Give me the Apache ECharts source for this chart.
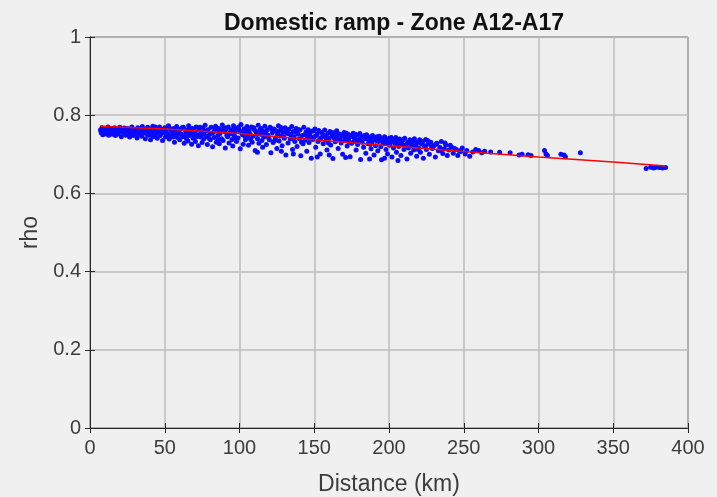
<!DOCTYPE html>
<html>
<head>
<meta charset="utf-8">
<script src="https://cdn.jsdelivr.net/npm/echarts@6/dist/echarts.min.js"></script>
<style>
html,body{margin:0;padding:0;background:#f0f0f0;}
#chart{width:717px;height:497px;}
</style>
</head>
<body>
<div id="chart"></div>
<script>
const titleText = "Domestic ramp - Zone A12-A17";
const xName = "Distance (km)";
const yName = "rho";
const xTicks = [0, 50, 100, 150, 200, 250, 300, 350, 400];
const yTicks = [0, 0.2, 0.4, 0.6, 0.8, 1];

// Observed points [distance km, rho]
const points = [
[7,0.762],[7.5,0.755],[8,0.768],[8.5,0.750],[9,0.760],[10,0.765],[10.5,0.752],[11,0.758],[12,0.770],[12.5,0.749],[13,0.762],[14,0.755],[14.5,0.766],[15,0.751],
[16,0.760],[16.5,0.768],[17,0.748],[18,0.757],[18.5,0.764],[19,0.752],[20,0.769],[20.5,0.758],[21,0.745],[22,0.762],[22.5,0.754],[23,0.767],[24,0.749],[24.5,0.760],
[25,0.766],[26,0.753],[26.5,0.744],[27,0.761],[28,0.770],[28.5,0.756],[29,0.748],[30,0.763],[31,0.757],[31.5,0.742],[32,0.768],[33,0.751],[34,0.760],[34.5,0.746],[35,0.771],
[36,0.755],[36.5,0.764],[37,0.740],[38,0.758],[38.5,0.769],[39,0.749],[40,0.762],[40.5,0.737],[41,0.756],[42,0.772],[42.5,0.745],[43,0.760],[44,0.752],[44.5,0.767],[45,0.741],
[46,0.758],[46.5,0.770],[47,0.748],[48,0.763],[48.5,0.735],[49,0.755],[50,0.768],[50.5,0.744],[51,0.760],[52,0.752],[52.5,0.773],[53,0.739],[54,0.762],[54.5,0.747],[55,0.757],
[56,0.766],[56.5,0.731],[57,0.750],[58,0.771],[58.5,0.743],[59,0.759],[60,0.737],[60.5,0.764],[61,0.752],[62,0.745],[62.5,0.769],[63,0.728],[64,0.757],[64.5,0.740],[65,0.762],[65.5,0.734],
[66,0.773],[66.5,0.748],[67,0.755],[68,0.726],[68.5,0.766],[69,0.741],[70,0.759],[70.5,0.733],[71,0.770],[72,0.750],[72.5,0.722],[73,0.762],[74,0.744],[74.5,0.755],[75,0.730],[75.5,0.768],
[76,0.739],[76.5,0.757],[77,0.774],[78,0.746],[78.5,0.725],[79,0.763],[80,0.751],[80.5,0.737],[81,0.769],[82,0.719],[82.5,0.756],[83,0.743],[84,0.772],[84.5,0.731],[85,0.760],[85.5,0.748],
[86,0.766],[86.5,0.727],[87,0.753],[88,0.740],[88.5,0.775],[89,0.735],[90,0.758],[90.5,0.716],[91,0.764],[92,0.745],[92.5,0.770],[93,0.729],[94,0.752],[94.5,0.762],[95,0.738],[95.5,0.721],
[96,0.773],[96.5,0.748],[97,0.757],[98,0.733],[98.5,0.767],[99,0.742],[100,0.761],[100.5,0.714],[101,0.776],[102,0.750],[102.5,0.726],[103,0.765],[104,0.737],[104.5,0.755],[105,0.771],[105.5,0.744],
[106,0.723],[106.5,0.760],[107,0.752],[108,0.770],[108.5,0.731],[109,0.746],[110,0.763],[110.5,0.710],[111,0.757],[112,0.740],[112.5,0.774],[113,0.728],[114,0.751],[114.5,0.766],[115,0.735],[115.5,0.718],
[116,0.758],[116.5,0.744],[117,0.772],[118,0.725],[118.5,0.762],[119,0.749],[120,0.737],[120.5,0.769],[121,0.704],[122,0.755],[122.5,0.730],[123,0.765],[124,0.742],[124.5,0.760],[125,0.715],[125.5,0.751],
[126,0.773],[126.5,0.734],[127,0.747],[128,0.762],[128.5,0.722],[129,0.756],[130,0.741],[130.5,0.768],[131,0.698],[132,0.753],[132.5,0.729],[133,0.764],[134,0.739],[134.5,0.749],[135,0.771],[135.5,0.712],
[136,0.758],[136.5,0.745],[137,0.733],[138,0.766],[138.5,0.720],[139,0.752],[140,0.740],[140.5,0.762],[141,0.696],[142,0.748],[142.5,0.727],[143,0.769],[144,0.736],[144.5,0.757],[145,0.708],[145.5,0.744],
[146,0.763],[146.5,0.730],[147,0.750],[148,0.690],[148.5,0.759],[149,0.738],[150,0.745],[150.5,0.765],[151,0.718],[152,0.752],[152.5,0.733],[153,0.761],[154,0.701],[154.5,0.742],[155,0.756],
[156,0.727],[156.5,0.748],[157,0.762],[158,0.736],[158.5,0.711],[159,0.753],[160,0.741],[160.5,0.758],[161,0.724],[162,0.747],[162.5,0.689],[163,0.755],[164,0.732],[164.5,0.744],[165,0.760],
[166,0.715],[166.5,0.738],[167,0.752],[168,0.729],[168.5,0.746],[169,0.700],[170,0.756],[170.5,0.735],[171,0.743],[172,0.721],[172.5,0.751],[173,0.739],[174,0.694],[174.5,0.748],[175,0.728],
[176,0.754],[176.5,0.733],[177,0.742],[178,0.711],[178.5,0.749],[179,0.725],[180,0.738],[180.5,0.753],[181,0.687],[182,0.731],[182.5,0.745],[183,0.718],[184,0.740],[184.5,0.703],[185,0.750],
[186,0.727],[186.5,0.736],[187,0.744],[188,0.714],[188.5,0.731],[189,0.748],[190,0.698],[190.5,0.739],[191,0.722],[192,0.745],[192.5,0.709],[193,0.733],[194,0.742],[194.5,0.719],[195,0.686],
[196,0.737],[196.5,0.727],[197,0.745],[198,0.712],[198.5,0.734],[199,0.701],[200,0.741],[200.5,0.723],[201,0.730],[202,0.693],[202.5,0.738],[203,0.716],[204,0.728],[204.5,0.743],[205,0.705],
[206,0.733],[206.5,0.720],[207,0.739],[208,0.697],[208.5,0.727],[209,0.735],[210,0.712],[210.5,0.741],[211,0.724],[212,0.688],[212.5,0.731],[213,0.716],[214,0.737],[214.5,0.703],[215,0.726],
[216,0.734],[216.5,0.711],[217,0.740],[218,0.722],[218.5,0.695],[219,0.730],[220,0.716],[220.5,0.737],[221,0.705],[222,0.727],[222.5,0.733],[223,0.690],[224,0.719],[224.5,0.738],[225,0.712],
[226,0.726],[227,0.700],[228,0.731],[229,0.715],[230,0.722],[231,0.693],[232,0.728],[233,0.709],[234,0.718],[235,0.733],[236,0.702],[237,0.714],[238,0.724],[239,0.697],[240,0.711],
[242,0.718],[243,0.703],[245,0.712],[246,0.697],[248,0.707],[249,0.716],[251,0.701],[252,0.710],[254,0.695],[256,0.706],[258,0.712],[260,0.710],[262,0.704],[264,0.708],
[268,0.706],[274,0.705],[281,0.704],[287,0.698],[289,0.700],[293,0.699],[295,0.697],[304,0.710],[305,0.701],[306,0.697],[315,0.700],[317,0.698],[318,0.694],[328,0.704],
[372,0.664],[375,0.667],[377,0.665],[379,0.667],[381,0.666],[383,0.665],[385,0.666],
[30.5,0.752],[32.5,0.762],[37.5,0.753],[39.5,0.765],[41.5,0.749],[43.5,0.770],[45.5,0.761],[47.5,0.754],[49.5,0.764],[51.5,0.749],[53.5,0.766],[55.5,0.744],[57.5,0.761],[59.5,0.753],
[61.5,0.768],[63.5,0.747],[65.8,0.756],[67.5,0.765],[69.5,0.751],[71.5,0.745],[73.5,0.769],[75.8,0.752],[77.5,0.760],[79.5,0.741],[81.5,0.754],[83.5,0.765],[85.8,0.737],[87.5,0.761],
[89.5,0.769],[91.5,0.749],[93.5,0.756],[95.8,0.764],[97.5,0.742],[99.5,0.770],[101.5,0.755],[103.5,0.747],[105.8,0.760],[107.5,0.738],[109.5,0.768],[111.5,0.751],[113.5,0.762],[115.8,0.748],
[117.5,0.756],[119.5,0.742],[121.5,0.765],[123.5,0.735],[125.8,0.758],[127.5,0.769],[129.5,0.745],[131.5,0.760],[133.5,0.752],[135.8,0.740],[137.5,0.757],[139.5,0.763],[141.5,0.731],[143.5,0.750],
[145.8,0.755],[147.5,0.742],[149.5,0.760],[151.5,0.748],[153.5,0.737],[155.8,0.750],[157.5,0.744],[159.5,0.729],[161.5,0.755],[163.5,0.741],[165.8,0.750],[167.5,0.736],[169.5,0.747],[171.5,0.754],
[173.5,0.731],[175.8,0.745],[177.5,0.751],[179.5,0.735],[181.5,0.743],[183.5,0.748],[185.8,0.739],[187.5,0.726],[189.5,0.741],[191.5,0.735],[193.5,0.746],[195.8,0.731],[197.5,0.739],[199.5,0.727],
[201.5,0.743],[203.5,0.735],[205.8,0.725],[207.5,0.731],[209.5,0.738],[211.5,0.719],[213.5,0.729],[215.8,0.721],[217.5,0.733],[219.5,0.712],[221.5,0.729],[223.5,0.722],[225.8,0.735],[228.5,0.719],
[231.5,0.726],[234.5,0.710],[237.5,0.729],[241,0.723],[244,0.715],[247,0.709],
[112,0.705],[128,0.708],[136,0.701],[152,0.693],[160,0.698],[171,0.692],[187,0.688],[197,0.690],[206,0.684]
];

// Fitted line [distance km, rho]
const fitLine = [[7,0.772],[50,0.765],[100,0.753],[150,0.737],[200,0.722],[250,0.707],[300,0.693],[350,0.680],[385,0.670]];

const chart = echarts.init(document.getElementById('chart'), null, {renderer: 'canvas'});
const FONT = 'Liberation Sans, Arial, sans-serif';
const axisCol = '#262626';
const labCol = '#3c3c3c';

chart.setOption({
  backgroundColor: '#f0f0f0',
  animation: false,
  title: {
    text: titleText,
    left: 389, top: 7, textAlign: 'center',
    textStyle: {fontFamily: FONT, fontSize: 23, fontWeight: 'bold', color: '#111'}
  },
  grid: {left: 90, right: 29, top: 37, bottom: 69, containLabel: false, outerBoundsMode: 'none',
    show: true, backgroundColor: '#eeeeee', borderColor: axisCol, borderWidth: 1},
  xAxis: [{
    type: 'value', min: xTicks[0], max: xTicks[xTicks.length-1], interval: 50,
    name: xName, nameLocation: 'middle', nameGap: 45,
    nameTextStyle: {fontFamily: FONT, fontSize: 23, color: labCol},
    axisLine: {show: true, lineStyle: {color: axisCol, width: 1}},
    axisTick: {show: true, inside: true, length: 5, lineStyle: {color: axisCol}},
    axisLabel: {fontFamily: FONT, fontSize: 20, color: labCol, margin: 10},
    splitLine: {show: true, lineStyle: {color: '#bcbcbc', width: 1.5}}
  },{
    type: 'value', position: 'top', min: xTicks[0], max: xTicks[xTicks.length-1], interval: 50,
    axisLine: {show: true, lineStyle: {color: axisCol}},
    axisTick: {show: true, inside: true, length: 5, lineStyle: {color: axisCol}},
    axisLabel: {show: false}, splitLine: {show: false}
  }],
  yAxis: [{
    type: 'value', min: yTicks[0], max: yTicks[yTicks.length-1], interval: 0.2,
    name: yName, nameLocation: 'middle', nameGap: 46, nameRotate: 90,
    nameTextStyle: {fontFamily: FONT, fontSize: 23, color: labCol},
    axisLine: {show: true, lineStyle: {color: axisCol, width: 1}},
    axisTick: {show: true, inside: true, length: 5, lineStyle: {color: axisCol}},
    axisLabel: {fontFamily: FONT, fontSize: 20, color: labCol, margin: 9,
      formatter: v => String(Math.round(v*10)/10)},
    splitLine: {show: true, lineStyle: {color: '#bcbcbc', width: 1.5}}
  },{
    type: 'value', position: 'right', min: yTicks[0], max: yTicks[yTicks.length-1], interval: 0.2,
    axisLine: {show: true, lineStyle: {color: axisCol}},
    axisTick: {show: true, inside: true, length: 5, lineStyle: {color: axisCol}},
    axisLabel: {show: false}, splitLine: {show: false}
  }],
  series: [{
    type: 'scatter', xAxisIndex: 0, yAxisIndex: 0,
    data: points, symbol: 'circle', symbolSize: 5,
    itemStyle: {color: '#0a0aff', opacity: 1}
  },{
    type: 'line', xAxisIndex: 0, yAxisIndex: 0,
    data: fitLine, showSymbol: false, symbol: 'none',
    lineStyle: {color: '#ff0000', width: 1.5}
  }]
});
</script>
</body>
</html>
